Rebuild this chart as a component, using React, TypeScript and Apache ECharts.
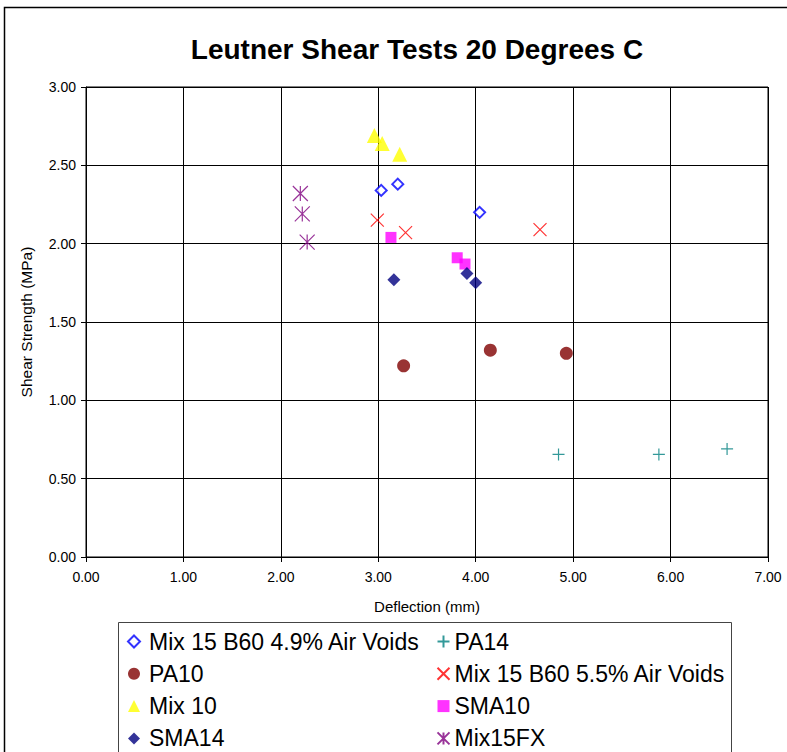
import React, { useEffect, useRef } from "react";
import * as echarts from "echarts";

const TITLE = "Leutner Shear Tests 20 Degrees C";
const X_NAME = "Deflection (mm)";
const Y_NAME = "Shear Strength (MPa)";

const mix15_49: number[][] = [[3.03, 2.34], [3.2, 2.38], [4.04, 2.2]];
const pa14: number[][] = [[4.85, 0.655], [5.88, 0.655], [6.58, 0.69]];
const pa10: number[][] = [[3.26, 1.22], [4.15, 1.32], [4.93, 1.3]];
const mix15_55: number[][] = [[2.99, 2.15], [3.28, 2.07], [4.66, 2.09]];
const mix10: number[][] = [[2.96, 2.69], [3.04, 2.64], [3.22, 2.57]];
const sma10: number[][] = [[3.13, 2.04], [3.81, 1.91], [3.89, 1.87]];
const sma14: number[][] = [[3.16, 1.77], [3.91, 1.81], [4.0, 1.75]];
const mix15fx: number[][] = [[2.2, 2.32], [2.22, 2.19], [2.27, 2.01]];

const LEFT_LEGEND = ["Mix 15 B60 4.9% Air Voids", "PA10", "Mix 10", "SMA14"];
const RIGHT_LEGEND = ["PA14", "Mix 15 B60 5.5% Air Voids", "SMA10", "Mix15FX"];

const FONT = 'Arial, "Liberation Sans", sans-serif';

const PLUS = "path://M5,0 L5,10 M0,5 L10,5";
const CROSS = "path://M0,0 L10,10 M10,0 L0,10";
const STAR = "path://M0,0 L10,10 M10,0 L0,10 M5,0 L5,10";

export default function App() {
  const ref = useRef<HTMLDivElement>(null);
  useEffect(() => {
    if (!ref.current) return;
    const chart = echarts.init(ref.current, null, { renderer: "svg" });
    const legendText = {
      fontSize: 23,
      color: "#000",
      fontFamily: FONT,
      lineHeight: 22,
    };
    chart.setOption({
      animation: false,
      backgroundColor: "#fff",
      title: {
        text: TITLE,
        left: 412,
        top: 30,
        textAlign: "center",
        textStyle: { fontSize: 28, fontWeight: "bold", color: "#000", fontFamily: FONT },
      },
      graphic: [
        {
          type: "rect",
          shape: { x: 4.5, y: 7.5, width: 820, height: 800 },
          style: { fill: "none", stroke: "#000", lineWidth: 1.5 },
          z: 0,
        },
        {
          type: "rect",
          shape: { x: 118.5, y: 622.5, width: 613, height: 200 },
          style: { fill: "none", stroke: "#444", lineWidth: 1 },
          z: 0,
        },
      ],
      legend: [
        {
          data: LEFT_LEGEND,
          orient: "vertical",
          left: 127,
          top: 630,
          height: 160,
          width: 300,
          padding: 0,
          itemWidth: 12,
          itemHeight: 12,
          itemGap: 9.3,
          textStyle: { ...legendText, padding: [0, 0, 0, 4] },
          selectedMode: false,
        },
        {
          data: RIGHT_LEGEND,
          orient: "vertical",
          left: 435,
          top: 630,
          height: 160,
          width: 300,
          padding: 0,
          itemWidth: 12,
          itemHeight: 12,
          itemGap: 9.3,
          textStyle: legendText,
          selectedMode: false,
        },
      ],
      grid: {
        left: 86,
        top: 87,
        right: 19,
        bottom: 195,
        show: true,
        borderColor: "#000",
        borderWidth: 1,
        backgroundColor: "#fff",
      },
      xAxis: {
        type: "value",
        min: 0,
        max: 7,
        interval: 1,
        name: X_NAME,
        nameLocation: "middle",
        nameGap: 42,
        nameTextStyle: { fontSize: 15, color: "#000", fontFamily: FONT },
        axisLine: { show: true, onZero: false, lineStyle: { color: "#000", width: 1 } },
        axisTick: { show: true, length: 5, inside: false, lineStyle: { color: "#000" } },
        axisLabel: {
          fontSize: 14,
          color: "#000",
          fontFamily: FONT,
          margin: 13,
          formatter: (v: number) => v.toFixed(2),
        },
        splitLine: { show: true, lineStyle: { color: "#000", width: 1 } },
      },
      yAxis: {
        type: "value",
        min: 0,
        max: 3,
        interval: 0.5,
        name: Y_NAME,
        nameLocation: "middle",
        nameGap: 52,
        nameRotate: 90,
        nameTextStyle: { fontSize: 15.5, color: "#000", fontFamily: FONT },
        axisLine: { show: true, onZero: false, lineStyle: { color: "#000", width: 1 } },
        axisTick: { show: true, length: 5, inside: false, lineStyle: { color: "#000" } },
        axisLabel: {
          fontSize: 14,
          color: "#000",
          fontFamily: FONT,
          margin: 10,
          formatter: (v: number) => v.toFixed(2),
        },
        splitLine: { show: true, lineStyle: { color: "#000", width: 1 } },
      },
      series: [
        {
          name: "Mix 15 B60 4.9% Air Voids",
          type: "scatter",
          data: mix15_49,
          symbol: "emptyDiamond",
          symbolSize: 11,
          itemStyle: { color: "#0000FF", borderColor: "#0000FF", borderWidth: 1.5 },
        },
        {
          name: "PA14",
          type: "scatter",
          data: pa14,
          symbol: PLUS,
          symbolSize: 12,
          itemStyle: { color: "none", borderColor: "#008080", borderWidth: 1.2 },
        },
        {
          name: "PA10",
          type: "scatter",
          data: pa10,
          symbol: "circle",
          symbolSize: 13,
          itemStyle: { color: "#800000" },
        },
        {
          name: "Mix 15 B60 5.5% Air Voids",
          type: "scatter",
          data: mix15_55,
          symbol: CROSS,
          symbolSize: 13,
          itemStyle: { color: "none", borderColor: "#FF0000", borderWidth: 1.2 },
        },
        {
          name: "Mix 10",
          type: "scatter",
          data: mix10,
          symbol: "triangle",
          symbolSize: 15,
          itemStyle: { color: "#FFFF00" },
        },
        {
          name: "SMA10",
          type: "scatter",
          data: sma10,
          symbol: "rect",
          symbolSize: 11,
          itemStyle: { color: "#FF00FF" },
        },
        {
          name: "SMA14",
          type: "scatter",
          data: sma14,
          symbol: "diamond",
          symbolSize: 13,
          itemStyle: { color: "#000080" },
        },
        {
          name: "Mix15FX",
          type: "scatter",
          data: mix15fx,
          symbol: STAR,
          symbolSize: 15,
          itemStyle: { color: "none", borderColor: "#800080", borderWidth: 1.2 },
        },
      ],
    });
    return () => chart.dispose();
  }, []);
  return (
    <div
      ref={ref}
      style={{ position: "fixed", left: 0, top: 0, width: 787, height: 752 }}
    />
  );
}
